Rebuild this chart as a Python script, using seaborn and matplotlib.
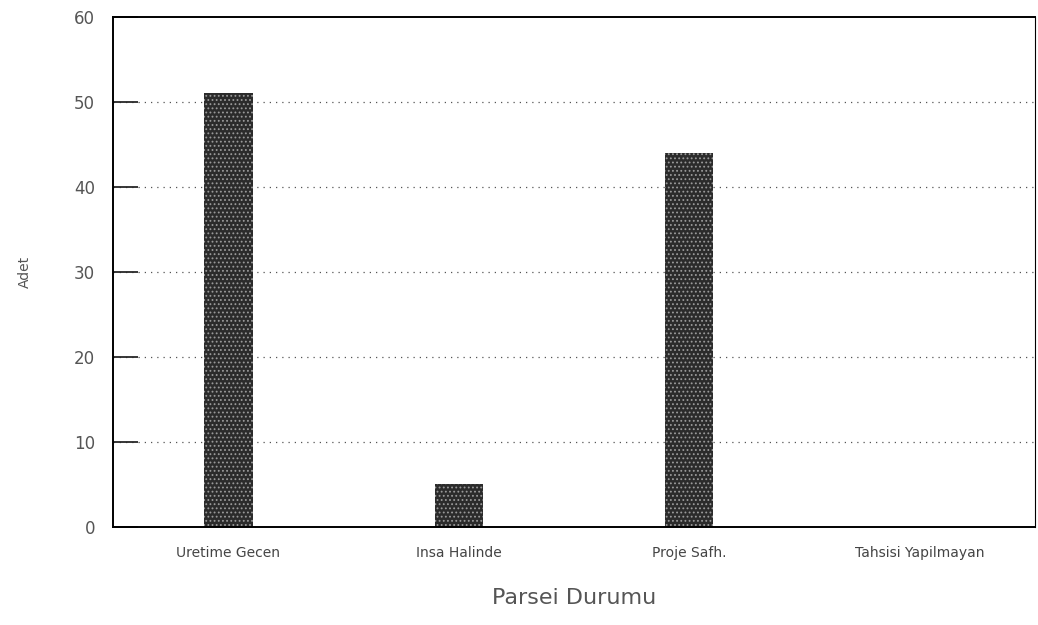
import matplotlib
matplotlib.use("Agg")
import matplotlib.pyplot as plt
import seaborn as sns
import pandas as pd

categories = ["Uretime Gecen", "Insa Halinde", "Proje Safh.", "Tahsisi Yapilmayan"]
values = [51, 5, 44, 0]
yticks = [0, 10, 20, 30, 40, 50, 60]

sns.set_theme(style="white")
plt.rcParams['font.family'] = ['DejaVu Sans']
plt.rcParams['hatch.linewidth'] = 0.8

df = pd.DataFrame({"cat": categories, "val": values})

fig = plt.figure(figsize=(10.38, 6.25), dpi=100)
ax = fig.add_axes([0.109, 0.157, 0.888, 0.816])

sns.barplot(data=df, x="cat", y="val", ax=ax, color="#2b2b2b", width=0.21,
            saturation=1, edgecolor="#9a9a9a", linewidth=0)
for p in ax.patches:
    p.set_hatch("....")

ax.set_ylim(0, 60)
ax.set_xlim(-0.5, 3.5)
ax.set_yticks(yticks)
ax.set_yticklabels([str(t) for t in yticks])

for t in yticks[1:-1]:
    ax.axhline(t, color="#555555", lw=0.9, ls=(0, (1, 4)), zorder=0)

for s in ax.spines.values():
    s.set_visible(True)
    s.set_color("black")
    s.set_linewidth(1.4)
ax.spines["right"].set_linewidth(0.8)

ax.tick_params(axis="y", direction="in", length=18, width=1.3, left=True,
               pad=13, labelsize=12, labelcolor="#555555")
ax.tick_params(axis="x", length=0, pad=14, labelsize=10, labelcolor="#444444")

ax.set_xlabel("Parsei Durumu", fontsize=16, color="#555555", labelpad=20)
ax.set_ylabel("Adet", fontsize=10, color="#555555", labelpad=30)
ax.grid(False)

fig.savefig("out.png", dpi=100)
